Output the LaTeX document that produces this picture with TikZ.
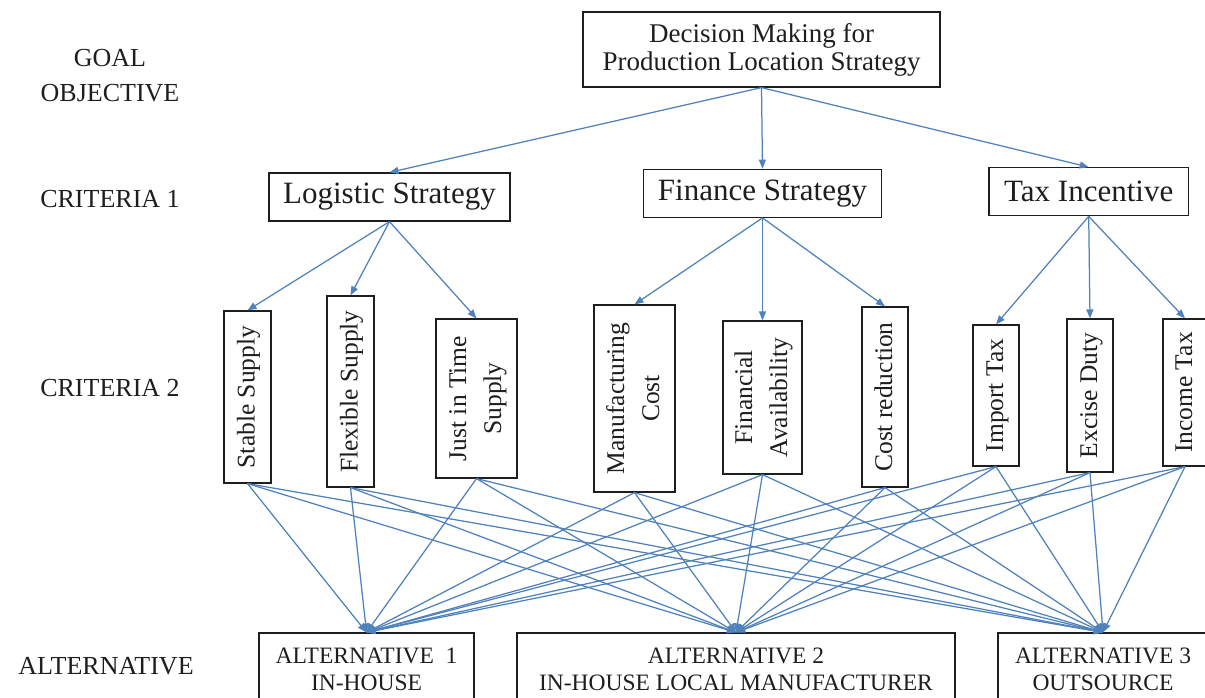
\documentclass[tikz,border=0pt]{standalone}
\usepackage{fontspec}
\setmainfont{Liberation Serif}
\usetikzlibrary{arrows.meta}
\definecolor{linkblue}{RGB}{79,129,189}
\definecolor{ink}{RGB}{30,30,30}
\tikzset{
  box/.style={draw=ink, text=ink, line width=1.2pt, inner sep=0pt, align=center},
  topbox/.style={box, font=\fontsize{27}{28}\selectfont},
  critone/.style={box, font=\fontsize{31}{34}\selectfont},
  crittwo/.style={box, font=\fontsize{25.5}{35}\selectfont},
  altbox/.style={box, font=\fontsize{23.5}{27}\selectfont},
  lvl/.style={align=center, inner sep=0pt, text=ink, font=\fontsize{26}{35}\selectfont},
  link/.style={draw=linkblue, line width=1.25pt, -{Triangle[length=9pt,width=7pt]}}
}
\newcommand{\uptext}[1]{\rotatebox{90}{\begin{tabular}{@{}c@{}}#1\end{tabular}}}

\begin{document}
\begin{tikzpicture}[x=1pt,y=-1pt]
\useasboundingbox (0,0) rectangle (1205,698);
\clip (0,0) rectangle (1205,698);

% level captions
\node[lvl] (lgoal) at (110,76) {GOAL\\OBJECTIVE};
\node[lvl] (lc1) at (110,199) {CRITERIA 1};
\node[lvl] (lc2) at (110,388) {CRITERIA 2};
\node[lvl] (lalt) at (106,666) {ALTERNATIVE};

% goal
\node[topbox, minimum width=357, minimum height=75] (goal) at (761.5,49.5)
  {Decision Making for\\Production Location Strategy};

% first-level criteria
\node[critone, minimum width=241, minimum height=48] (log) at (389.5,197) {Logistic Strategy};
\node[critone, minimum width=238, minimum height=48] (fin) at (762.5,193.3) {Finance Strategy};
\node[critone, minimum width=199.5, minimum height=48] (tax) at (1088.7,191.7) {Tax Incentive};

% second-level criteria
\node[crittwo, minimum width=47, minimum height=172] (c1) at (247.5,397) {\uptext{Stable Supply}};
\node[crittwo, minimum width=47, minimum height=191] (c2) at (350.5,391.5) {\uptext{Flexible Supply}};
\node[crittwo, minimum width=81, minimum height=159] (c3) at (476.5,398.5) {\uptext{Just in Time\\Supply}};
\node[crittwo, minimum width=81, minimum height=187] (c4) at (634.5,398.5) {\uptext{Manufacturing\\Cost}};
\node[crittwo, minimum width=79, minimum height=153] (c5) at (762.5,397.5) {\uptext{Financial\\Availability}};
\node[crittwo, minimum width=46, minimum height=180] (c6) at (885,397) {\uptext{Cost reduction}};
\node[crittwo, minimum width=46, minimum height=141] (c7) at (996,395.5) {\uptext{Import Tax}};
\node[crittwo, minimum width=46, minimum height=153] (c8) at (1090,395.5) {\uptext{Excise Duty}};
\node[crittwo, minimum width=44, minimum height=147] (c9) at (1185,392.5) {\uptext{Income Tax}};

% alternatives
\node[altbox, minimum width=215, minimum height=72] (a1) at (366.5,669) {ALTERNATIVE~~1\\IN-HOUSE};
\node[altbox, minimum width=438, minimum height=72] (a2) at (736,669) {ALTERNATIVE 2\\IN-HOUSE LOCAL MANUFACTURER};
\node[altbox, minimum width=210, minimum height=72] (a3) at (1103,669) {ALTERNATIVE 3\\OUTSOURCE};

% goal to first level
\foreach \t in {log,fin,tax}
  \draw[link] (goal.south) -- (\t.north);

% first level to second level
\foreach \t in {c1,c2,c3}
  \draw[link] (log.south) -- (\t.north);
\foreach \t in {c4,c5,c6}
  \draw[link] (fin.south) -- (\t.north);
\foreach \t in {c7,c8,c9}
  \draw[link] (tax.south) -- (\t.north);

% every second-level criterion to every alternative
\foreach \s in {c1,c2,c3,c4,c5,c6,c7,c8,c9}
  \foreach \t in {a1,a2,a3}
    \draw[link] (\s.south) -- (\t.north);
\end{tikzpicture}
\end{document}
